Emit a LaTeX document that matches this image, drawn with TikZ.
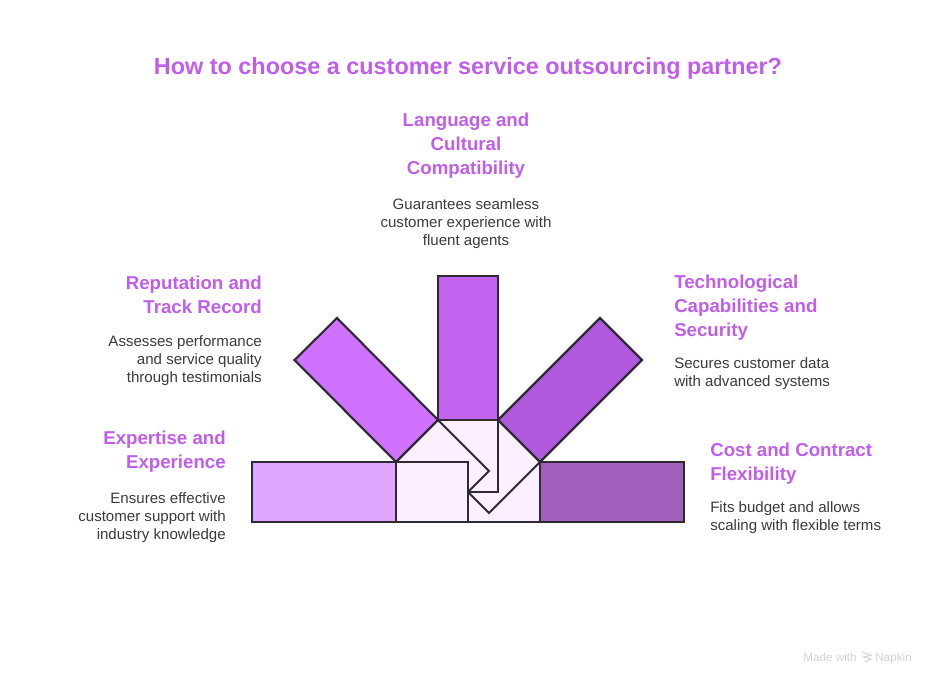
\documentclass[tikz,border=0pt]{standalone}
\usepackage{fontspec}
\setmainfont{Liberation Sans}
\definecolor{headc}{HTML}{C05EEB}
\definecolor{bodyc}{HTML}{3A3A3A}
\definecolor{linec}{HTML}{2E2A31}
\definecolor{innerc}{HTML}{FAEEFF}
\definecolor{topc}{HTML}{C263EF}
\definecolor{ldiag}{HTML}{CF72FF}
\definecolor{rdiag}{HTML}{B25ADF}
\definecolor{lbar}{HTML}{E0A6FF}
\definecolor{rbar}{HTML}{A15EBD}
\definecolor{markc}{HTML}{D2D2D2}
\tikzset{
  x=0.75pt,y=-0.75pt,
  shapeline/.style={draw=linec,line width=1.6pt,line join=miter},
  thinline/.style={draw=linec,line width=1.4pt,line join=miter},
  head/.style={text=headc,font=\fontsize{14}{18}\selectfont\bfseries,inner sep=0pt},
  body/.style={text=bodyc,font=\fontsize{11.3}{13.5}\selectfont,inner sep=0pt},
  mark text/.style={text=markc,font=\fontsize{8.8}{10}\selectfont,inner sep=0pt,anchor=base west},
}
\begin{document}
\begin{tikzpicture}
\useasboundingbox (0,0) rectangle (936,684);
% inner pale region
\fill[innerc] (396,462) -- (438,420) -- (498,420) -- (540,462) -- (540,522) -- (396,522) -- cycle;
% outer blades
\draw[shapeline,fill=ldiag] (337,318) -- (294.5,360) -- (396,462) -- (438,420) -- cycle;
\draw[shapeline,fill=rdiag] (600,318) -- (642,360) -- (540,462) -- (498,420) -- cycle;
\draw[shapeline,fill=topc] (438,276) rectangle (498,420);
\draw[shapeline,fill=lbar] (252,462) rectangle (396,522);
\draw[shapeline,fill=rbar] (540,462) rectangle (684,522);
% folded inner edges
\draw[thinline] (438,420) -- (489,471) -- (468,492);
\draw[thinline] (540,462) -- (489,513) -- (468,492);
\draw[shapeline] (498,420) -- (498,492) -- (468,492);
\draw[shapeline] (396,462) -- (468,462) -- (468,522);
\draw[shapeline] (396,522) -- (540,522);
% title
\node[text=headc,font=\fontsize{17.55}{22}\selectfont\bfseries,inner sep=0pt] (title) at (468,69) {How to choose a customer service outsourcing partner?};
% centre top
\node[head,align=center] (langh) at (466,146) {Language and\\Cultural\\Compatibility};
\node[body,align=center] (langb) at (466,223.5) {Guarantees seamless\\customer experience with\\fluent agents};
% left upper
\node[head,align=right,anchor=east] (reph) at (262,294.5) {Reputation and\\Track Record};
\node[body,align=right,anchor=east] (repb) at (262,361) {Assesses performance\\and service quality\\through testimonials};
% left lower
\node[head,align=right,anchor=east] (exph) at (226,452) {Expertise and\\Experience};
\node[body,align=right,anchor=east] (expb) at (226,518) {Ensures effective\\customer support with\\industry knowledge};
% right upper
\node[head,align=left,anchor=west] (techh) at (674,308) {Technological\\Capabilities and\\Security};
\node[body,align=left,anchor=west] (techb) at (674,373.5) {Secures customer data\\with advanced systems};
% right lower
\node[head,align=left,anchor=west] (costh) at (710,464) {Cost and Contract\\Flexibility};
\node[body,align=left,anchor=west] (costb) at (710,517.5) {Fits budget and allows\\scaling with flexible terms};
% watermark
\node[mark text] (made) at (803,661) {Made with};
\node[mark text] (napkin) at (875,661) {Napkin};
\draw[markc,line width=0.7pt] (862,652) -- (871,655.5) -- (863,657) -- (871,659) -- (865,662);
\end{tikzpicture}
\end{document}
